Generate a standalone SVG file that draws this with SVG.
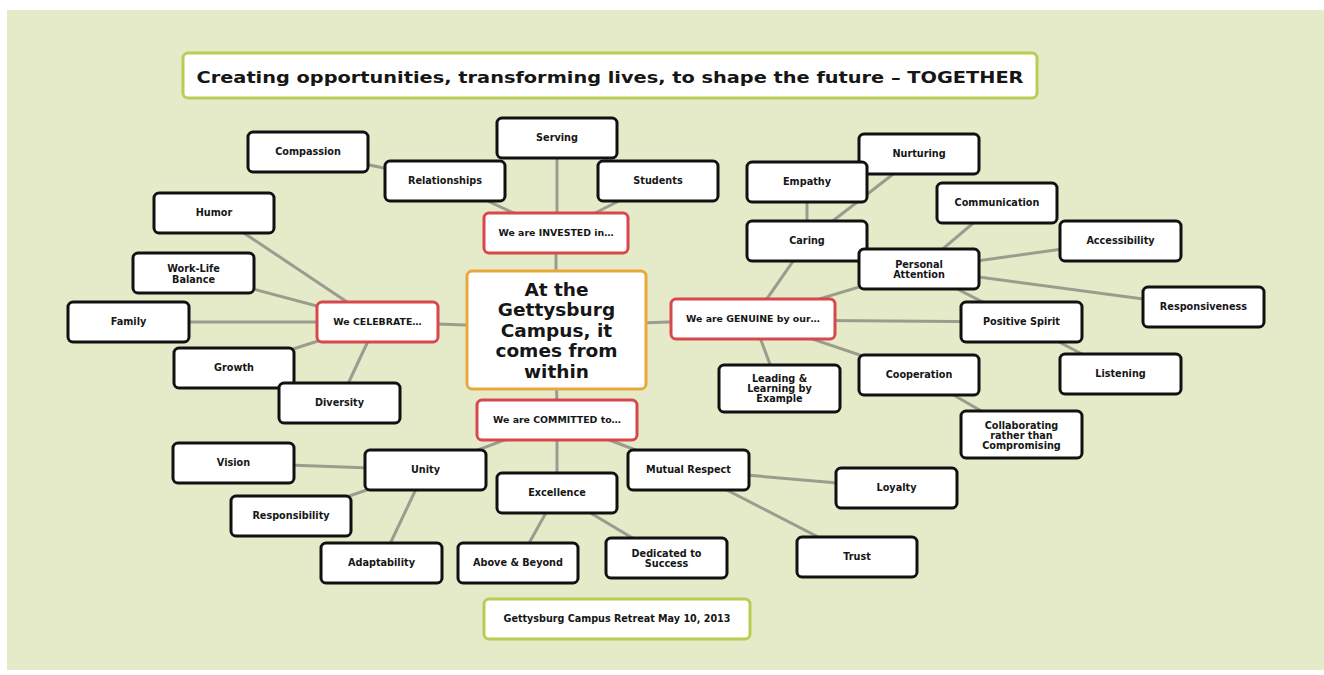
<svg xmlns="http://www.w3.org/2000/svg" width="1324" height="675" viewBox="0 0 1324 675">
<style>
.bg{fill:#E5EAC9}
.n{fill:#fff;stroke:#111;stroke-width:3}
.r{fill:#fff;stroke:#D8474C;stroke-width:3}
.c{fill:#fff;stroke:#E9A93A;stroke-width:3}
.g{fill:#fff;stroke:#B9CD55;stroke-width:3}
.e{stroke:#9C9C8E;stroke-width:3;fill:none}
text{font-family:"DejaVu Sans","Liberation Sans",sans-serif;font-weight:bold;fill:#161616;text-anchor:middle}
.t{font-size:9.7px}
.tr{font-size:9.4px}
.big{font-size:18.5px}
.title{font-size:16.5px}
.foot{font-size:9.6px}
</style>
<rect x="0" y="0" width="1324" height="675" fill="#fff"/>
<rect class="bg" x="7" y="10" width="1317" height="660"/>

<g id="connectors">
<line class="e" x1="308" y1="152" x2="445" y2="181"/>
<line class="e" x1="445" y1="181" x2="556" y2="233"/>
<line class="e" x1="557" y1="138" x2="557" y2="233"/>
<line class="e" x1="658" y1="181" x2="556" y2="233"/>
<line class="e" x1="556" y1="233" x2="556" y2="330"/>
<line class="e" x1="377" y1="322" x2="556" y2="328"/>
<line class="e" x1="556" y1="326" x2="753" y2="319"/>
<line class="e" x1="556" y1="330" x2="557" y2="420"/>
<line class="e" x1="214" y1="213" x2="377" y2="322"/>
<line class="e" x1="193" y1="273" x2="377" y2="322"/>
<line class="e" x1="128" y1="322" x2="377" y2="322"/>
<line class="e" x1="234" y1="368" x2="377" y2="322"/>
<line class="e" x1="339" y1="403" x2="377" y2="322"/>
<line class="e" x1="807" y1="241" x2="753" y2="319"/>
<line class="e" x1="807" y1="182" x2="807" y2="241"/>
<line class="e" x1="919" y1="154" x2="807" y2="241"/>
<line class="e" x1="919" y1="269" x2="753" y2="319"/>
<line class="e" x1="753" y1="320" x2="1021" y2="322"/>
<line class="e" x1="753" y1="319" x2="779" y2="388"/>
<line class="e" x1="753" y1="319" x2="919" y2="375"/>
<line class="e" x1="919" y1="375" x2="1021" y2="434"/>
<line class="e" x1="919" y1="269" x2="997" y2="203"/>
<line class="e" x1="919" y1="269" x2="1120" y2="241"/>
<line class="e" x1="919" y1="269" x2="1203" y2="307"/>
<line class="e" x1="919" y1="269" x2="1021" y2="322"/>
<line class="e" x1="1021" y1="322" x2="1120" y2="374"/>
<line class="e" x1="557" y1="420" x2="425" y2="470"/>
<line class="e" x1="557" y1="420" x2="557" y2="493"/>
<line class="e" x1="557" y1="420" x2="688" y2="470"/>
<line class="e" x1="233" y1="463" x2="425" y2="470"/>
<line class="e" x1="291" y1="516" x2="425" y2="470"/>
<line class="e" x1="381" y1="563" x2="425" y2="470"/>
<line class="e" x1="518" y1="563" x2="557" y2="493"/>
<line class="e" x1="557" y1="493" x2="666" y2="558"/>
<line class="e" x1="688" y1="470" x2="896" y2="488"/>
<line class="e" x1="688" y1="470" x2="857" y2="557"/>
</g>

<g id="title"><rect class="g" x="183" y="53" width="854" height="45" rx="5"/><text class="title" x="610" y="83" textLength="827" lengthAdjust="spacingAndGlyphs">Creating opportunities, transforming lives, to shape the future – TOGETHER</text></g>

<g id="center"><rect class="c" x="467" y="271" width="179" height="118" rx="5"/>
<text class="big" x="556.5" y="295.5">At the</text>
<text class="big" x="556.5" y="316">Gettysburg</text>
<text class="big" x="556.5" y="336.5">Campus, it</text>
<text class="big" x="556.5" y="357">comes from</text>
<text class="big" x="556.5" y="377.5">within</text></g>

<g id="invested"><rect class="r" x="484" y="213" width="144" height="40" rx="5"/><text class="tr" x="556" y="236.4">We are INVESTED in…</text></g>
<g id="celebrate"><rect class="r" x="317" y="302" width="121" height="40" rx="5"/><text class="tr" x="377.5" y="325.4">We CELEBRATE…</text></g>
<g id="genuine"><rect class="r" x="671" y="299" width="164" height="40" rx="5"/><text class="tr" x="753" y="322.4">We are GENUINE by our…</text></g>
<g id="committed"><rect class="r" x="477" y="400" width="160" height="40" rx="5"/><text class="tr" x="557" y="423.4">We are COMMITTED to…</text></g>

<g id="compassion"><rect class="n" x="248" y="132" width="120" height="40" rx="5"/><text class="t" x="308" y="155.4">Compassion</text></g>
<g id="relationships"><rect class="n" x="385" y="161" width="120" height="40" rx="5"/><text class="t" x="445" y="184.4">Relationships</text></g>
<g id="serving"><rect class="n" x="497" y="118" width="120" height="40" rx="5"/><text class="t" x="557" y="141.4">Serving</text></g>
<g id="students"><rect class="n" x="598" y="161" width="120" height="40" rx="5"/><text class="t" x="658" y="184.4">Students</text></g>

<g id="humor"><rect class="n" x="154" y="193" width="120" height="40" rx="5"/><text class="t" x="214" y="216.4">Humor</text></g>
<g id="worklife"><rect class="n" x="133" y="253" width="121" height="40" rx="5"/><text class="t" x="193.5" y="272.3">Work-Life</text><text class="t" x="193.5" y="282.6">Balance</text></g>
<g id="family"><rect class="n" x="68" y="302" width="121" height="40" rx="5"/><text class="t" x="128.5" y="325.4">Family</text></g>
<g id="growth"><rect class="n" x="174" y="348" width="120" height="40" rx="5"/><text class="t" x="234" y="371.4">Growth</text></g>
<g id="diversity"><rect class="n" x="279" y="383" width="121" height="40" rx="5"/><text class="t" x="339.5" y="406.4">Diversity</text></g>

<g id="nurturing"><rect class="n" x="859" y="134" width="120" height="40" rx="5"/><text class="t" x="919" y="157.4">Nurturing</text></g>
<g id="empathy"><rect class="n" x="747" y="162" width="120" height="40" rx="5"/><text class="t" x="807" y="185.4">Empathy</text></g>
<g id="caring"><rect class="n" x="747" y="221" width="120" height="40" rx="5"/><text class="t" x="807" y="244.4">Caring</text></g>
<g id="communication"><rect class="n" x="937" y="183" width="120" height="40" rx="5"/><text class="t" x="997" y="206.4">Communication</text></g>
<g id="personal"><rect class="n" x="859" y="249" width="120" height="40" rx="5"/><text class="t" x="919" y="267.8">Personal</text><text class="t" x="919" y="277.8">Attention</text></g>
<g id="accessibility"><rect class="n" x="1060" y="221" width="121" height="40" rx="5"/><text class="t" x="1120.5" y="244.4">Accessibility</text></g>
<g id="responsiveness"><rect class="n" x="1143" y="287" width="121" height="40" rx="5"/><text class="t" x="1203.5" y="310.4">Responsiveness</text></g>
<g id="positive"><rect class="n" x="961" y="302" width="121" height="40" rx="5"/><text class="t" x="1021.5" y="325.4">Positive Spirit</text></g>
<g id="listening"><rect class="n" x="1060" y="354" width="121" height="40" rx="5"/><text class="t" x="1120.5" y="377.4">Listening</text></g>
<g id="cooperation"><rect class="n" x="859" y="355" width="120" height="40" rx="5"/><text class="t" x="919" y="378.4">Cooperation</text></g>
<g id="collaborating"><rect class="n" x="961" y="411" width="121" height="47" rx="5"/><text class="t" x="1021.5" y="428.5">Collaborating</text><text class="t" x="1021.5" y="438.8">rather than</text><text class="t" x="1021.5" y="449.1">Compromising</text></g>
<g id="leading"><rect class="n" x="719" y="365" width="121" height="47" rx="5"/><text class="t" x="779.5" y="381.8">Leading &amp;</text><text class="t" x="779.5" y="392.1">Learning by</text><text class="t" x="779.5" y="402.4">Example</text></g>

<g id="vision"><rect class="n" x="173" y="443" width="121" height="40" rx="5"/><text class="t" x="233.5" y="466.4">Vision</text></g>
<g id="unity"><rect class="n" x="365" y="450" width="121" height="40" rx="5"/><text class="t" x="425.5" y="473.4">Unity</text></g>
<g id="responsibility"><rect class="n" x="231" y="496" width="120" height="40" rx="5"/><text class="t" x="291" y="519.4">Responsibility</text></g>
<g id="adaptability"><rect class="n" x="321" y="543" width="121" height="40" rx="5"/><text class="t" x="381.5" y="566.4">Adaptability</text></g>
<g id="excellence"><rect class="n" x="497" y="473" width="120" height="40" rx="5"/><text class="t" x="557" y="496.4">Excellence</text></g>
<g id="above"><rect class="n" x="458" y="543" width="120" height="40" rx="5"/><text class="t" x="518" y="566.4">Above &amp; Beyond</text></g>
<g id="mutual"><rect class="n" x="628" y="450" width="121" height="40" rx="5"/><text class="t" x="688.5" y="473.4">Mutual Respect</text></g>
<g id="dedicated"><rect class="n" x="606" y="538" width="121" height="40" rx="5"/><text class="t" x="666.5" y="556.8">Dedicated to</text><text class="t" x="666.5" y="567.1">Success</text></g>
<g id="loyalty"><rect class="n" x="836" y="468" width="121" height="40" rx="5"/><text class="t" x="896.5" y="491.4">Loyalty</text></g>
<g id="trust"><rect class="n" x="797" y="537" width="120" height="40" rx="5"/><text class="t" x="857" y="560.4">Trust</text></g>

<g id="footer"><rect class="g" x="484" y="599" width="266" height="40" rx="5"/><text class="foot" x="617" y="622.4">Gettysburg Campus Retreat May 10, 2013</text></g>
</svg>
